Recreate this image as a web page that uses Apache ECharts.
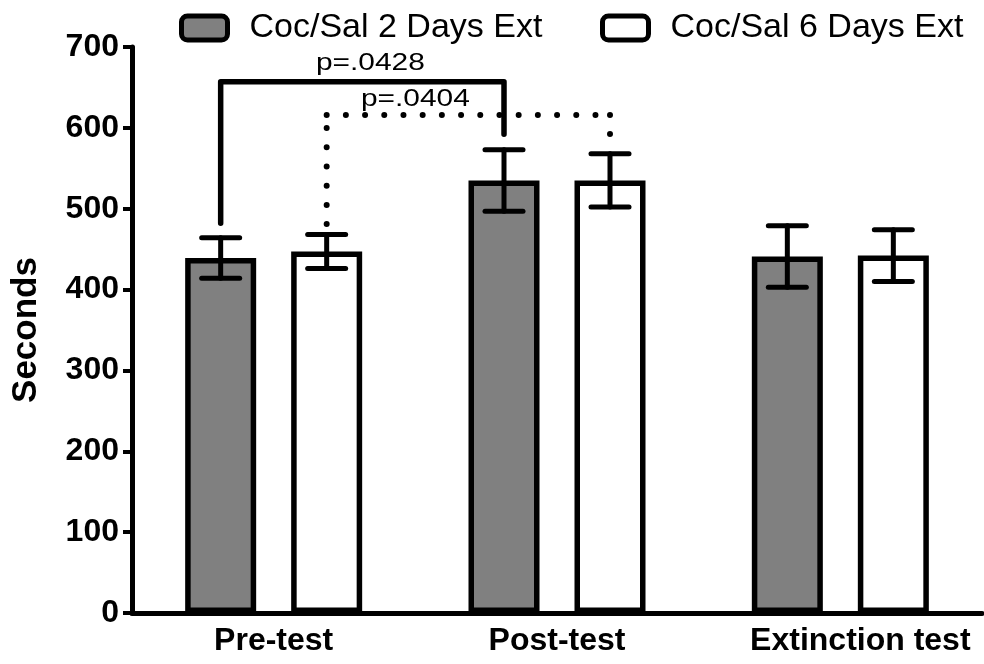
<!DOCTYPE html>
<html>
<head>
<meta charset="utf-8">
<script src="https://cdn.jsdelivr.net/npm/echarts@6/dist/echarts.min.js"></script>
<style>
  html, body { margin: 0; padding: 0; background: #fff; }
  #chart { width: 984px; height: 664px; }
</style>
</head>
<body>
<div id="chart"></div>
<script>
// Time spent (seconds), mean ± SEM per test phase
const categories = ['Pre-test', 'Post-test', 'Extinction test'];
const seriesNames = ['Coc/Sal 2 Days Ext', 'Coc/Sal 6 Days Ext'];
const means2Days = [439, 535, 441];
const sem2Days = [25, 38, 38];
const means6Days = [447, 535, 442];
const sem6Days = [21, 33, 32];

// y axis range
const yMin = 0;
const yMax = 700;
const yStep = 100;

// pairwise comparisons: [category, group] at each end, leg ends and bracket height in seconds
const compLabels = ['p=.0428', 'p=.0404'];
const compFromCat = [0, 0];
const compFromGroup = [0, 1];
const compFromEnd = [482, 481];
const compToCat = [1, 1];
const compToGroup = [0, 1];
const compToEnd = [592, 575];
const compTop = [657, 616];

const FONT = '"Liberation Sans", Arial, Helvetica, sans-serif';
const BAR_W = 71;
const BAR_GAP_PX = 35;
const HALF_STEP = (BAR_W + BAR_GAP_PX) / 2; // distance from category centre to each bar centre
const compDashed = [false, true];
const compLabelDx = [8, -53];
const compLabelDy = [-18, -15];

const chart = echarts.init(document.getElementById('chart'), null, { renderer: 'canvas' });

function groupOffset(g) { return g === 0 ? -HALF_STEP : HALF_STEP; }

function errorBarRenderer(group) {
  return function (params, api) {
    const cat = api.value(0);
    const mean = api.value(1);
    const err = api.value(2);
    const cx = api.coord([cat, mean])[0] + groupOffset(group);
    const yHi = api.coord([cat, mean + err])[1];
    const yLo = api.coord([cat, mean - err])[1];
    const cap = 19;
    const st = { stroke: '#000', lineWidth: 5, lineCap: 'round' };
    return {
      type: 'group',
      children: [
        { type: 'line', shape: { x1: cx, y1: yHi, x2: cx, y2: yLo }, style: st },
        { type: 'line', shape: { x1: cx - cap, y1: yHi, x2: cx + cap, y2: yHi }, style: st },
        { type: 'line', shape: { x1: cx - cap, y1: yLo, x2: cx + cap, y2: yLo }, style: st }
      ]
    };
  };
}

function bracketRenderer(params, api) {
  const i = params.dataIndex;
  const x1 = api.coord([api.value(0), 0])[0] + groupOffset(api.value(1));
  const y1 = api.coord([0, api.value(2)])[1];
  const x2 = api.coord([api.value(3), 0])[0] + groupOffset(api.value(4));
  const y2 = api.coord([0, api.value(5)])[1];
  const yTop = api.coord([0, api.value(6)])[1];
  const children = [];
  if (compDashed[i]) {
    const dot = { stroke: '#000', lineWidth: 6, lineCap: 'round', lineDash: [0, 19.2] };
    children.push({ type: 'line', shape: { x1: x1, y1: y1, x2: x1, y2: yTop }, style: dot });
    children.push({ type: 'line', shape: { x1: x1, y1: yTop, x2: x2, y2: yTop }, style: dot });
    children.push({ type: 'line', shape: { x1: x2, y1: yTop, x2: x2, y2: y2 }, style: dot });
  } else {
    children.push({
      type: 'polyline',
      shape: { points: [[x1, y1], [x1, yTop], [x2, yTop], [x2, y2]] },
      style: { stroke: '#000', fill: null, lineWidth: 5.5, lineCap: 'round', lineJoin: 'round' }
    });
  }
  children.push({
    type: 'text',
    x: (x1 + x2) / 2 + compLabelDx[i],
    y: yTop + compLabelDy[i],
    scaleX: 1.3,
    style: {
      text: compLabels[i],
      font: '23px ' + FONT,
      fill: '#000',
      align: 'center',
      verticalAlign: 'middle'
    }
  });
  return { type: 'group', children: children };
}

const legendBase = {
  orient: 'horizontal',
  top: 11,
  padding: 0,
  itemWidth: 46,
  itemHeight: 24,
  icon: 'roundRect',
  selectedMode: false,
  itemStyle: { borderColor: '#000', borderWidth: 5 },
  formatter: '{t|{name}}',
  textStyle: {
    rich: { t: { padding: [0, 0, 0, 17], fontSize: 34, fontFamily: FONT, color: '#000' } }
  }
};

const axisLabelFont = { color: '#000', fontSize: 32, fontWeight: 'bold', fontFamily: FONT };

const option = {
  animation: false,
  backgroundColor: '#fff',
  grid: { left: 132, right: 2, top: 47, bottom: 51, containLabel: false, outerBoundsMode: 'none' },
  legend: [
    Object.assign({}, legendBase, { left: 179, data: [seriesNames[0]] }),
    Object.assign({}, legendBase, { left: 600, data: [seriesNames[1]] })
  ],
  xAxis: {
    type: 'category',
    data: categories,
    axisLine: { lineStyle: { color: '#000', width: 5 } },
    axisTick: { alignWithLabel: true, length: 9, lineStyle: { color: '#000', width: 4 } },
    axisLabel: Object.assign({}, axisLabelFont, {
      margin: 12,
      interval: 0,
      formatter: function (v, i) { return i === categories.length - 1 ? '{e|' + v + '}' : v; },
      rich: { e: Object.assign({}, axisLabelFont, { padding: [0, 0, 0, 40] }) }
    }),
    splitLine: { show: false }
  },
  yAxis: {
    type: 'value',
    min: yMin,
    max: yMax,
    interval: yStep,
    name: 'Seconds',
    nameLocation: 'middle',
    nameRotate: 90,
    nameGap: 88,
    nameTextStyle: { color: '#000', fontSize: 35, fontWeight: 'bold', fontFamily: FONT },
    axisLine: { show: true, lineStyle: { color: '#000', width: 5 } },
    axisTick: { show: true, length: 9, lineStyle: { color: '#000', width: 4 } },
    axisLabel: Object.assign({}, axisLabelFont, { margin: 13 }),
    splitLine: { show: false }
  },
  series: [
    {
      name: seriesNames[0],
      type: 'bar',
      data: means2Days,
      barWidth: BAR_W,
      barGap: (BAR_GAP_PX / BAR_W * 100) + '%',
      itemStyle: { color: '#808080', borderColor: '#000', borderWidth: 5.5 },
      z: 2
    },
    {
      name: seriesNames[1],
      type: 'bar',
      data: means6Days,
      barWidth: BAR_W,
      barGap: (BAR_GAP_PX / BAR_W * 100) + '%',
      itemStyle: { color: '#ffffff', borderColor: '#000', borderWidth: 5.5 },
      z: 2
    },
    {
      type: 'custom',
      renderItem: errorBarRenderer(0),
      data: categories.map((c, i) => [i, means2Days[i], sem2Days[i]]),
      encode: { x: 0, y: [1, 2] },
      z: 5
    },
    {
      type: 'custom',
      renderItem: errorBarRenderer(1),
      data: categories.map((c, i) => [i, means6Days[i], sem6Days[i]]),
      encode: { x: 0, y: [1, 2] },
      z: 5
    },
    {
      type: 'custom',
      renderItem: bracketRenderer,
      data: compLabels.map((l, i) => [compFromCat[i], compFromGroup[i], compFromEnd[i],
                                      compToCat[i], compToGroup[i], compToEnd[i], compTop[i]]),
      encode: { x: [0, 3], y: [2, 5, 6] },
      clip: false,
      z: 6
    }
  ]
};

chart.setOption(option);
</script>
</body>
</html>
